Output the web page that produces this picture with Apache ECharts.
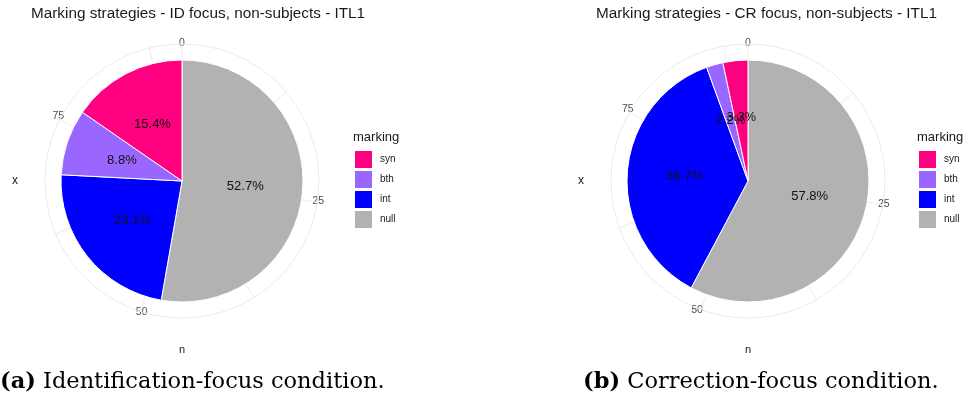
<!DOCTYPE html>
<html>
<head>
<meta charset="utf-8">
<script src="https://cdn.jsdelivr.net/npm/echarts@6/dist/echarts.min.js"></script>
<style>html,body{margin:0;padding:0;background:#fff}#c{width:965px;height:403px}</style>
</head>
<body>
<div id="c"></div>
<script>
// Data
const categories = ['syn', 'bth', 'int', 'null'];
const colors = ['#ff0080', '#9966ff', '#0000ff', '#b2b2b2'];
const idCounts = [14, 8, 21, 48];   // ID focus (total 91)
const crCounts = [3, 2, 33, 52];    // CR focus (total 90)
const angleTicks = [0, 25, 50, 75];
const titles = ['Marking strategies - ID focus, non-subjects - ITL1', 'Marking strategies - CR focus, non-subjects - ITL1'];
const captionTags = ['(a)', '(b)'];
const captions = ['Identification-focus condition.', 'Correction-focus condition.'];

const chart = echarts.init(document.getElementById('c'), null, {renderer: 'canvas'});

const panels = [
  {counts: idCounts, cx: 182, cy: 181, titleX: 31, legX: 355, xLabX: 15, capX: 0},
  {counts: crCounts, cx: 748, cy: 181, titleX: 596, legX: 919, xLabX: 581, capX: 583}
];
const R = 121, RING = 137;

const option = {
  animation: false,
  backgroundColor: '#fff',
  title: [], polar: [], angleAxis: [], radiusAxis: [], series: [], legend: [], graphic: []
};

panels.forEach((p, i) => {
  const total = p.counts.reduce((a, b) => a + b, 0);
  option.title.push({
    text: titles[i], left: p.titleX, top: 6, padding: 0,
    textStyle: {fontFamily: 'Liberation Sans', fontSize: 15.3, fontWeight: 'normal', color: '#1a1a1a'}
  });
  option.polar.push({center: [p.cx, p.cy], radius: RING});
  option.angleAxis.push({
    polarIndex: i, type: 'value', min: 0, max: total, interval: 12.5,
    startAngle: 90, clockwise: true,
    axisLine: {show: true, lineStyle: {color: '#ebebeb', width: 1}},
    axisTick: {show: false},
    splitLine: {show: true, lineStyle: {color: '#ebebeb', width: 1}},
    axisLabel: {
      margin: -5, fontFamily: 'Liberation Sans', fontSize: 10.5, color: '#4d4d4d',
      formatter: v => (angleTicks.indexOf(v) >= 0 ? String(v) : '')
    }
  });
  option.radiusAxis.push({polarIndex: i, type: 'value', min: 0, max: 1, show: false});
  // pie clockwise from top: null, int, bth, syn
  const data = [];
  for (let k = categories.length - 1; k >= 0; k--) {
    data.push({name: categories[k], value: p.counts[k], itemStyle: {color: colors[k]}});
  }
  option.series.push({
    type: 'pie', center: [p.cx, p.cy], radius: [0, R], startAngle: 90, clockwise: true,
    percentPrecision: 1, avoidLabelOverlap: false, z: 5,
    itemStyle: {borderColor: '#fff', borderWidth: 1},
    label: {show: true, position: 'inside', formatter: '{d}%', fontFamily: 'Liberation Sans', fontSize: 13, color: '#111'},
    labelLayout: {hideOverlap: false},
    labelLine: {show: false},
    emphasis: {disabled: true},
    data: data
  });
  option.legend.push({
    orient: 'vertical', left: p.legX, top: 151, padding: 0, itemWidth: 17, itemHeight: 17, itemGap: 3,
    icon: 'rect', data: categories, selectedMode: false,
    itemStyle: {borderWidth: 0},
    textStyle: {fontFamily: 'Liberation Sans', fontSize: 10, color: '#1a1a1a', padding: [0, 0, 0, 3]}
  });
  option.graphic.push(
    {type: 'text', left: p.legX - 2, top: 131, style: {text: 'marking', font: '13px "Liberation Sans"', fill: '#1a1a1a'}},
    {type: 'text', x: p.xLabX, y: p.cy, style: {text: 'x', font: '12px "Liberation Sans"', fill: '#1a1a1a', align: 'center', verticalAlign: 'middle'}},
    {type: 'text', x: p.cx, y: 350, style: {text: 'n', font: '11px "Liberation Sans"', fill: '#1a1a1a', align: 'center', verticalAlign: 'middle'}},
    {type: 'text', x: p.capX, y: 382, style: {
      text: '{b|' + captionTags[i] + '} ' + captions[i],
      rich: {b: {font: 'bold 22.5px "DejaVu Serif"', fill: '#000'}},
      font: '22.5px "DejaVu Serif"', fill: '#000', verticalAlign: 'middle'
    }}
  );
});

chart.setOption(option);
</script>
</body>
</html>
